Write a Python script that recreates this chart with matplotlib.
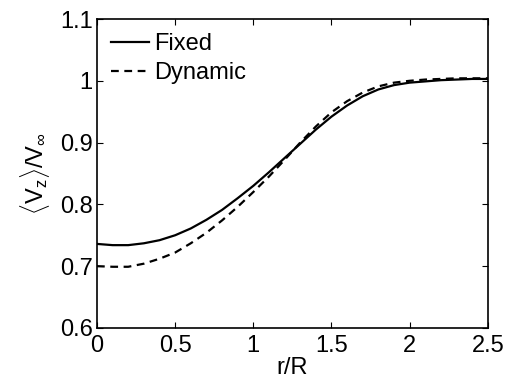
import matplotlib
matplotlib.use('Agg')
import matplotlib.pyplot as plt

plt.rcParams['font.family'] = 'Liberation Sans'
plt.rcParams['mathtext.fontset'] = 'custom'
plt.rcParams['mathtext.rm'] = 'Liberation Sans'
plt.rcParams['mathtext.it'] = 'Liberation Sans'

# radial position r/R
r = [0.0, 0.1, 0.2, 0.3, 0.4, 0.5, 0.6, 0.7, 0.8, 0.9, 1.0, 1.1, 1.2,
     1.3, 1.4, 1.5, 1.6, 1.7, 1.8, 1.9, 2.0, 2.1, 2.2, 2.3, 2.4, 2.5]
fixed = [0.736, 0.734, 0.734, 0.737, 0.742, 0.750, 0.761, 0.775, 0.791,
         0.810, 0.830, 0.852, 0.875, 0.898, 0.921, 0.942, 0.960, 0.975,
         0.986, 0.993, 0.997, 0.999, 1.001, 1.002, 1.003, 1.003]
dynamic = [0.700, 0.699, 0.699, 0.704, 0.712, 0.722, 0.737, 0.754, 0.774,
           0.796, 0.820, 0.845, 0.872, 0.900, 0.926, 0.949, 0.967, 0.981,
           0.991, 0.997, 1.000, 1.002, 1.003, 1.004, 1.004, 1.004]

xticks = [0, 0.5, 1, 1.5, 2, 2.5]
xticklabels = ['0', '0.5', '1', '1.5', '2', '2.5']
yticks = [0.6, 0.7, 0.8, 0.9, 1.0, 1.1]
yticklabels = ['0.6', '0.7', '0.8', '0.9', '1', '1.1']

fig = plt.figure(figsize=(5.05, 3.8), dpi=100)
ax = fig.add_axes([0.192, 0.137, 0.774, 0.813])

ax.plot(r, fixed, 'k-', linewidth=1.6, label='Fixed')
ax.plot(r, dynamic, 'k--', linewidth=1.6, dashes=(3.5, 2.5), label='Dynamic')

ax.set_xlim(0, 2.5)
ax.set_ylim(0.6, 1.1)
ax.set_xticks(xticks)
ax.set_xticklabels(xticklabels)
ax.set_yticks(yticks)
ax.set_yticklabels(yticklabels)
ax.tick_params(direction='in', top=True, right=True, labelsize=17, length=4)
ax.tick_params(axis='x', pad=5)
ax.tick_params(axis='y', pad=3)
for s in ax.spines.values():
    s.set_linewidth(1.2)

ax.set_xlabel('r/R', fontsize=17, labelpad=0)
ax.set_ylabel(r'$\langle\mathrm{V_z}\rangle/\mathrm{V_\infty}$', fontsize=17, labelpad=6)

ax.legend(loc='upper left', frameon=False, fontsize=17, handlelength=1.6,
          handletextpad=0.2, labelspacing=0.3, borderaxespad=0.3,
          borderpad=0.3)

fig.savefig('out.png', dpi=100)
